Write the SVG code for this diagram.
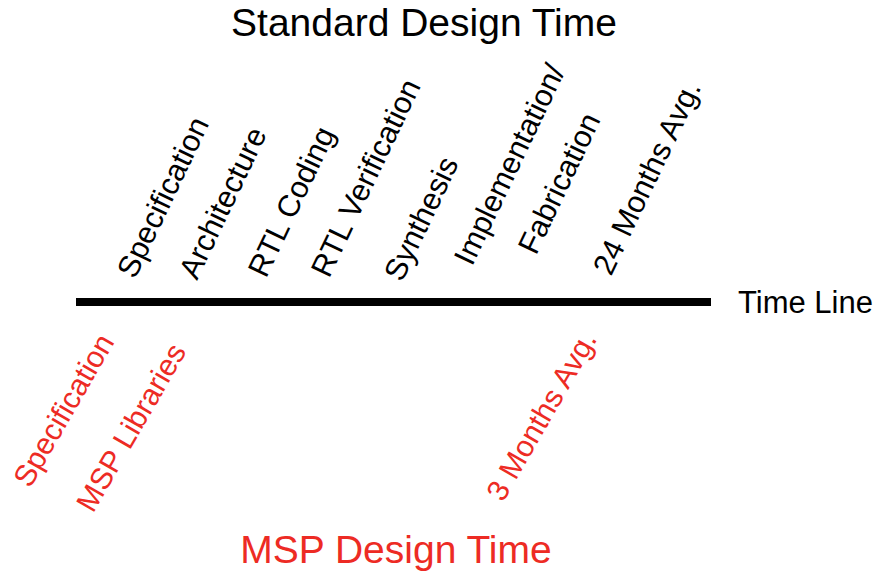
<svg xmlns="http://www.w3.org/2000/svg" width="874" height="574" viewBox="0 0 874 574">
  <style>
    text { font-family: "Liberation Sans", Arial, Helvetica, sans-serif; }
    .title { font-size: 39px; text-anchor: middle; }
    .std { font-size: 30.6px; fill: #000000; }
    .msp { font-size: 30px; fill: #ED2B24; }
    .red { fill: #ED2B24; }
  </style>
  <rect width="874" height="574" fill="#ffffff"/>

  <!-- headings -->
  <g id="title-standard">
    <text class="title" x="424" y="36">Standard Design Time</text>
  </g>
  <g id="title-msp">
    <text class="title red" x="396" y="563">MSP Design Time</text>
  </g>

  <!-- the time axis -->
  <g id="connectors">
    <line x1="76" y1="302" x2="711" y2="302" stroke="#000000" stroke-width="8"/>
  </g>
  <g id="timeline-label">
    <text class="std" x="738" y="313" style="font-size:31px">Time Line</text>
  </g>

  <!-- standard flow stages, above the axis -->
  <g id="std-specification"><text class="std" transform="translate(135,280) rotate(-64.5)">Specification</text></g>
  <g id="std-architecture"><text class="std" transform="translate(197,281) rotate(-64.5)">Architecture</text></g>
  <g id="std-rtl-coding"><text class="std" transform="translate(266,279) rotate(-64.5)">RTL Coding</text></g>
  <g id="std-rtl-verification"><text class="std" transform="translate(329,279) rotate(-64.5)">RTL Verification</text></g>
  <g id="std-synthesis"><text class="std" transform="translate(402,283) rotate(-64.5)">Synthesis</text></g>
  <g id="std-implementation">
    <text class="std" transform="translate(472,267) rotate(-64.5)">Implementation/</text>
    <text class="std" transform="translate(536,256) rotate(-64.5)">Fabrication</text>
  </g>
  <g id="std-duration"><text class="std" transform="translate(611,277) rotate(-64.5)">24 Months Avg.</text></g>

  <!-- MSP flow stages, below the axis -->
  <g id="msp-specification"><text class="msp" transform="translate(30,489) rotate(-60)">Specification</text></g>
  <g id="msp-libraries"><text class="msp" transform="translate(93,514) rotate(-60)">MSP Libraries</text></g>
  <g id="msp-duration"><text class="msp" transform="translate(503,503) rotate(-60)">3 Months Avg.</text></g>
</svg>
